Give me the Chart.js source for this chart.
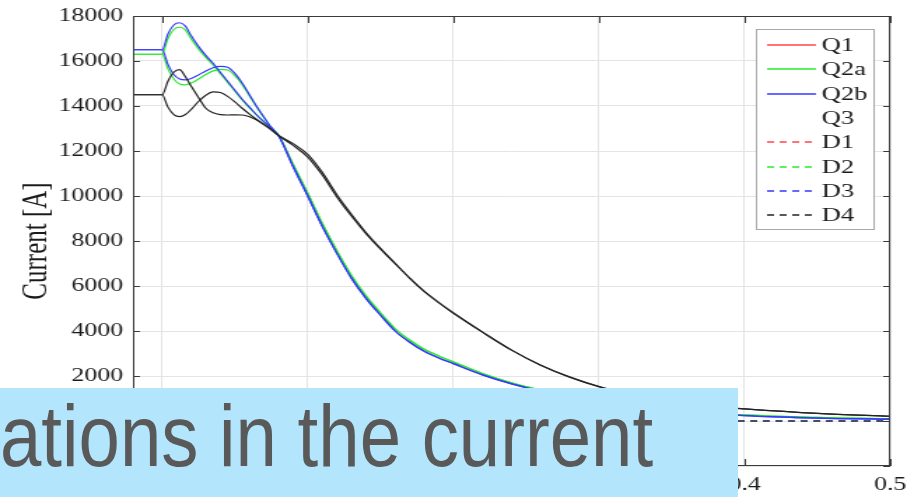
<!DOCTYPE html>
<html>
<head>
<meta charset="utf-8">
<script src="https://cdn.jsdelivr.net/npm/chart.js@4.4.1/dist/chart.umd.min.js"></script>
<style>
  html, body { margin: 0; padding: 0; background: #fff; overflow: hidden; width: 907px; height: 497px; }
  #plot { position: absolute; left: 0; top: 0; width: 648px; height: 497px; transform: scaleX(1.39969); transform-origin: 0 0; }
  #caption { position: absolute; left: 0; top: 388px; width: 738px; height: 109px; background: #b3e5fc; overflow: hidden; }
  #caption div { position: absolute; left: 0; top: 4px; font-family: "Liberation Sans", Arial, sans-serif; font-size: 88px; line-height: 1; color: #595959; white-space: nowrap; transform: scaleX(0.845); transform-origin: 0 0; }
</style>
</head>
<body>
<div id="plot"><canvas id="c"></canvas></div>
<div id="caption"><div>ations in the current</div></div>
<script>
// time axis [s]
const timeS = [-0.02, 0, 0.004, 0.008, 0.012, 0.016, 0.02, 0.025, 0.03, 0.035, 0.04, 0.045, 0.05, 0.055,
  0.06, 0.065, 0.07, 0.075, 0.08, 0.09, 0.1, 0.11, 0.12, 0.13, 0.14, 0.15, 0.16, 0.17, 0.18, 0.19, 0.2,
  0.22, 0.24, 0.26, 0.28, 0.3, 0.32, 0.35, 0.38, 0.4, 0.45, 0.5];

// switch currents [A]
const q2aPeak = [16300, 16300, 17000, 17400, 17500, 17380, 16980, 16540, 16160, 15820, 15440, 15050, 14660, 14270,
  13920, 13590, 13290, 12990, 12700, 11400, 10120, 8780, 7570, 6470, 5560, 4800, 4100, 3600, 3190, 2890, 2630,
  2110, 1700, 1380, 1120, 930, 760, 540, 360, 270, 160, 100];
const q2aDip = [16300, 16300, 15650, 15200, 14980, 14940, 15020, 15200, 15400, 15560, 15630, 15600, 15350, 14950,
  14450, 13950, 13480, 13050, 12700, 11400, 10120, 8780, 7570, 6470, 5560, 4800, 4100, 3600, 3190, 2890, 2630,
  2110, 1700, 1380, 1120, 930, 760, 540, 360, 270, 160, 100];
const q2bPeak = [16500, 16500, 17200, 17600, 17700, 17550, 17120, 16650, 16250, 15900, 15500, 15100, 14700, 14300,
  13950, 13600, 13300, 13000, 12680, 11300, 10000, 8650, 7450, 6350, 5450, 4700, 4000, 3500, 3100, 2800, 2550,
  2050, 1650, 1330, 1080, 900, 720, 500, 330, 240, 130, 80];
const q2bDip = [16500, 16500, 15850, 15400, 15200, 15160, 15220, 15380, 15560, 15700, 15760, 15720, 15450, 15020,
  14500, 13980, 13500, 13050, 12680, 11300, 10000, 8650, 7450, 6350, 5450, 4700, 4000, 3500, 3100, 2800, 2550,
  2050, 1650, 1330, 1080, 900, 720, 500, 330, 240, 130, 80];
const q3Rise = [14500, 14500, 15100, 15500, 15620, 15300, 14880, 14380, 13900, 13700, 13620, 13600, 13610, 13600,
  13520, 13380, 13180, 12950, 12680, 12250, 11730, 10930, 9960, 9110, 8330, 7640, 6995, 6350, 5760, 5260, 4800,
  3950, 3150, 2480, 1950, 1530, 1220, 870, 640, 540, 340, 210];
const q3Dip = [14500, 14500, 13950, 13620, 13530, 13620, 13850, 14200, 14480, 14630, 14600, 14430, 14180, 13900,
  13640, 13400, 13170, 12940, 12690, 12330, 11850, 11050, 10060, 9190, 8380, 7670, 7010, 6350, 5760, 5260, 4800,
  3950, 3150, 2480, 1950, 1530, 1220, 870, 640, 540, 340, 210];

// diode currents [A]
const diodeTime = [-0.02, 0.5];
const d1 = [0, 0];
const d2 = [0, 0];
const d3 = [0, 0];
const d4 = [0, 0];

// axis ticks
const xTicks = [0, 0.1, 0.2, 0.3, 0.4, 0.5];
const yTicks = [-2000, 0, 2000, 4000, 6000, 8000, 10000, 12000, 14000, 16000, 18000];
const legendNames = ['Q1', 'Q2a', 'Q2b', 'Q3', 'D1', 'D2', 'D3', 'D4'];

const RED = 'rgb(255,70,70)', GREEN = 'rgb(40,235,40)', BLUE = 'rgb(55,55,255)', BLACK = 'rgb(35,35,35)';
const pts = (xs, ys) => xs.map((x, i) => ({ x, y: ys[i] }));

function series(label, xs, ys, color, order, dashed) {
  return {
    label, data: pts(xs, ys), borderColor: color, backgroundColor: color,
    borderWidth: 1.2, pointRadius: 0, fill: false, order,
    borderDash: dashed ? [5, 4] : [], cubicInterpolationMode: 'monotone'
  };
}

const datasets = [
  { label: 'Q1', data: [], borderColor: RED, backgroundColor: RED, borderWidth: 1.2, pointRadius: 0, order: 9 },
  series('Q2a', timeS, q2aPeak, GREEN, 4, false),
  series('Q2b', timeS, q2bPeak, BLUE, 3, false),
  { label: 'Q3', data: [], borderColor: 'rgba(0,0,0,0)', backgroundColor: 'rgba(0,0,0,0)', borderWidth: 1.2, pointRadius: 0, order: 9 },
  series('D1', diodeTime, d1, RED, 8, true),
  series('D2', diodeTime, d2, GREEN, 7, true),
  series('D3', diodeTime, d3, BLUE, 6, true),
  series('D4', diodeTime, d4, BLACK, 1, true),
  series('Q2a dip', timeS, q2aDip, GREEN, 4, false),
  series('Q2b dip', timeS, q2bDip, BLUE, 3, false),
  series('Q3 rise', timeS, q3Rise, BLACK, 2, false),
  series('Q3 dip', timeS, q3Dip, BLACK, 2, false)
];

const serif = '"Liberation Serif", "Times New Roman", serif';

// axes box with inward tick marks, and a boxed legend in the top-right corner
const boxAxes = {
  id: 'boxAxes',
  afterDatasetsDraw(chart) {
    const { ctx, chartArea: a, scales } = chart;
    ctx.save();
    ctx.strokeStyle = '#3a3a3a';
    ctx.lineWidth = 1;
    ctx.strokeRect(a.left + 0.5, a.top + 0.5, a.right - a.left - 1, a.bottom - a.top - 1);
    ctx.beginPath();
    scales.y.ticks.forEach(t => {
      const py = Math.round(scales.y.getPixelForValue(t.value)) + 0.5;
      ctx.moveTo(a.left, py); ctx.lineTo(a.left + 5, py);
      ctx.moveTo(a.right, py); ctx.lineTo(a.right - 5, py);
    });
    scales.x.ticks.forEach(t => {
      const px = Math.round(scales.x.getPixelForValue(t.value)) + 0.5;
      ctx.moveTo(px, a.bottom); ctx.lineTo(px, a.bottom - 7);
      ctx.moveTo(px, a.top); ctx.lineTo(px, a.top + 7);
    });
    ctx.stroke();
    ctx.restore();
  },
  afterDraw(chart) {
    const { ctx, chartArea: a } = chart;
    const entries = legendNames.map(n => chart.data.datasets.find(d => d.label === n));
    const w = 85, h = 201;
    const left = Math.round(a.right - 11.5 - w), top = Math.round(a.top + 13);
    ctx.save();
    ctx.fillStyle = '#fff';
    ctx.fillRect(left, top, w, h);
    ctx.strokeStyle = '#a8a8a8';
    ctx.lineWidth = 1;
    ctx.strokeRect(left + 0.5, top + 0.5, w - 1, h - 1);
    ctx.font = '19px ' + serif;
    ctx.textBaseline = 'middle';
    ctx.fillStyle = '#1a1a1a';
    entries.forEach((ds, i) => {
      const y = Math.round(top + 16 + i * 24.3);
      ctx.beginPath();
      ctx.strokeStyle = ds.borderColor;
      ctx.lineWidth = 1.3;
      ctx.setLineDash(ds.borderDash && ds.borderDash.length ? ds.borderDash : []);
      ctx.moveTo(left + 8, y); ctx.lineTo(left + 43, y);
      ctx.stroke();
      ctx.setLineDash([]);
      ctx.fillText(ds.label, left + 47, y + 1);
    });
    ctx.restore();
  }
};

new Chart(document.getElementById('c'), {
  type: 'line',
  data: { datasets },
  options: {
    responsive: true,
    maintainAspectRatio: false,
    animation: false,
    layout: { padding: { left: 0, right: 12, top: 16, bottom: 0 } },
    plugins: { legend: { display: false }, tooltip: { enabled: false } },
    scales: {
      x: {
        type: 'linear', min: -0.02, max: 0.5,
        afterBuildTicks: s => { s.ticks = xTicks.map(v => ({ value: v })); },
        afterFit: s => { s.height = 31; s.paddingLeft = 0; s.paddingRight = 0; },
        grid: { color: '#e4e4e4', drawTicks: false },
        border: { display: false },
        ticks: {
          padding: 8, color: '#1a1a1a', font: { family: serif, size: 18.5 },
          callback: v => (v === 0 ? '0' : String(+v.toFixed(1)))
        }
      },
      y: {
        min: -2000, max: 18000,
        afterBuildTicks: s => { s.ticks = yTicks.map(v => ({ value: v })); },
        afterFit: s => { s.width = 95; s.paddingTop = 0; s.paddingBottom = 0; },
        grid: { color: '#e4e4e4', drawTicks: false },
        border: { display: false },
        ticks: { padding: 7, color: '#1a1a1a', font: { family: serif, size: 18.5 }, callback: v => String(v) },
        title: { display: true, text: 'Current [A]', color: '#1a1a1a', font: { family: serif, size: 25 }, padding: { top: 11, bottom: 0 } }
      }
    }
  },
  plugins: [boxAxes]
});
</script>
</body>
</html>
